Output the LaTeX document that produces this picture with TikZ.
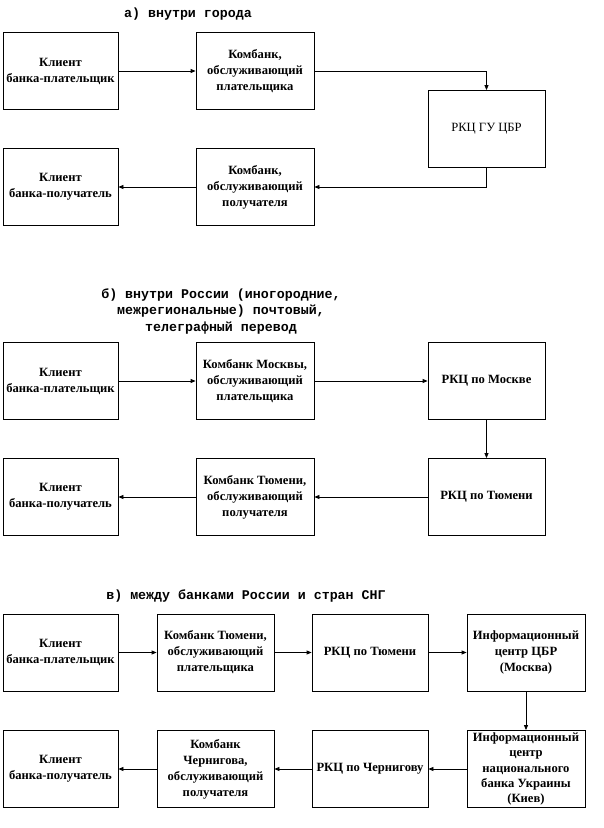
\documentclass[tikz,border=0pt]{standalone}
\usepackage{fontspec}
\setmainfont{Liberation Serif}
\newfontfamily\monofam{Liberation Mono}
\usetikzlibrary{arrows.meta}
\begin{document}
\begin{tikzpicture}[x=1pt,y=-1pt]
\tikzset{
 box/.style={draw, line width=0.8pt, inner sep=1pt, align=center, minimum height=77,
   font=\bfseries\fontsize{12.6}{16}\selectfont},
 plainbox/.style={box, font=\mdseries\fontsize{12.6}{16}\selectfont},
 ttl/.style={align=center, font=\monofam\bfseries\fontsize{13.3}{16.5}\selectfont},
 arr/.style={line width=0.8pt, -{Triangle[length=5pt,width=4pt]}},
}
\useasboundingbox (0,0) rectangle (604,828);

% ---------- a) ----------
\node[ttl] (ta) at (188,14) {а) внутри города};
\node[box, minimum width=115] (a1) at (60.5,71) {Клиент\\банка-плательщик};
\node[box, minimum width=118] (a2) at (255,71) {Комбанк,\\обслуживающий\\плательщика};
\node[plainbox, minimum width=117] (a3) at (486.5,129) {РКЦ ГУ ЦБР};
\node[box, minimum width=115] (a4) at (60.5,187) {Клиент\\банка-получатель};
\node[box, minimum width=118] (a5) at (255,187) {Комбанк,\\обслуживающий\\получателя};
\draw[arr] (a1) -- (a2);
\draw[arr] (a2.east) -| (a3.north);
\draw[arr] (a3.south) |- (a5.east);
\draw[arr] (a5) -- (a4);

% ---------- b) ----------
\node[ttl] (tb) at (221,311) {б) внутри России (иногородние,\\межрегиональные) почтовый,\\телеграфный перевод};
\node[box, minimum width=115] (b1) at (60.5,381) {Клиент\\банка-плательщик};
\node[box, minimum width=118] (b2) at (255,381) {Комбанк Москвы,\\обслуживающий\\плательщика};
\node[box, minimum width=117] (b3) at (486.5,381) {РКЦ по Москве};
\node[box, minimum width=115] (b4) at (60.5,497) {Клиент\\банка-получатель};
\node[box, minimum width=118] (b5) at (255,497) {Комбанк Тюмени,\\обслуживающий\\получателя};
\node[box, minimum width=117] (b6) at (486.5,497) {РКЦ по Тюмени};
\draw[arr] (b1) -- (b2);
\draw[arr] (b2) -- (b3);
\draw[arr] (b3) -- (b6);
\draw[arr] (b6) -- (b5);
\draw[arr] (b5) -- (b4);

% ---------- c) ----------
\node[ttl] (tc) at (246,596) {в) между банками России и стран СНГ};
\node[box, minimum width=115] (c1) at (60.5,652.5) {Клиент\\банка-плательщик};
\node[box, minimum width=117] (c2) at (215.5,652.5) {Комбанк Тюмени,\\обслуживающий\\плательщика};
\node[box, minimum width=116] (c3) at (370,652.5) {РКЦ по Тюмени};
\node[box, minimum width=118] (c4) at (526,652.5) {Информационный\\центр ЦБР\\(Москва)};
\node[box, minimum width=118, inner sep=0pt, font=\bfseries\fontsize{12.6}{15.3}\selectfont] (c5) at (526,769) {Информационный\\центр\\национального\\банка Украины\\(Киев)};
\node[box, minimum width=116] (c6) at (370,769) {РКЦ по Чернигову};
\node[box, minimum width=117] (c7) at (215.5,769) {Комбанк\\Чернигова,\\обслуживающий\\получателя};
\node[box, minimum width=115] (c8) at (60.5,769) {Клиент\\банка-получатель};
\draw[arr] (c1) -- (c2);
\draw[arr] (c2) -- (c3);
\draw[arr] (c3) -- (c4);
\draw[arr] (c4) -- (c5);
\draw[arr] (c5) -- (c6);
\draw[arr] (c6) -- (c7);
\draw[arr] (c7) -- (c8);
\end{tikzpicture}
\end{document}
